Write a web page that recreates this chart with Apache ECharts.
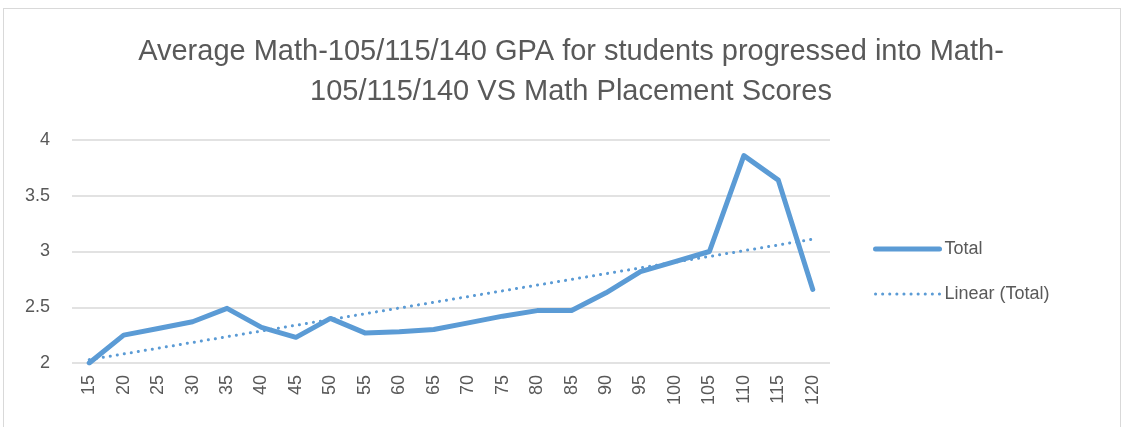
<html>
<head>
    <meta charset="utf-8" />
    <script src="https://cdn.jsdelivr.net/npm/echarts@6/dist/echarts.min.js"></script>
    <title>Math Placement GPA</title>
    <style>
        body { margin: 0; overflow: hidden; background: #fff; }
        .frame {
            position: absolute; left: 3px; top: 8px;
            width: 1116px; height: 440px;
            border: 1px solid #d9d9d9;
        }
        #chart { position: absolute; left: 0; top: 0; width: 1124px; height: 427px; }
    </style>
</head>
<body>
    <div class="frame"></div>
    <div id="chart"></div>
    <script type="text/javascript">
        var scores = ['15', '20', '25', '30', '35', '40', '45', '50', '55', '60', '65',
            '70', '75', '80', '85', '90', '95', '100', '105', '110', '115', '120'];
        var totalGpa = [2.0, 2.25, 2.31, 2.37, 2.49, 2.32, 2.23, 2.40, 2.27, 2.28, 2.30,
            2.36, 2.42, 2.47, 2.47, 2.63, 2.82, 2.91, 3.00, 3.86, 3.64, 2.66];
        // trendline ends
        var trendEnds = [['15', 2.03], ['120', 3.11]];
        var yTicks = [2, 2.5, 3, 3.5, 4];

        var blue = '#5b9bd5';
        var textGrey = '#595959';
        var font = 'Liberation Sans';

        var chart = echarts.init(document.getElementById('chart'));
        chart.setOption({
            animation: false,
            title: {
                text: 'Average Math-105/115/140 GPA for students progressed into Math-\n105/115/140 VS Math Placement Scores',
                left: 566,
                textAlign: 'center',
                top: 27,
                textStyle: {
                    fontFamily: font,
                    fontSize: 29,
                    fontWeight: 'normal',
                    color: textGrey,
                    lineHeight: 40
                }
            },
            legend: {
                orient: 'vertical',
                left: 868,
                top: 235,
                itemWidth: 64,
                itemHeight: 14,
                itemGap: 27,
                itemStyle: { color: 'rgba(0,0,0,0)', borderWidth: 0 },
                textStyle: { fontFamily: font, fontSize: 18, color: textGrey },
                data: [
                    { name: 'Total', lineStyle: { width: 5 } },
                    { name: 'Linear (Total)', lineStyle: { width: 3 } }
                ]
            },
            grid: { left: 72, right: 294, top: 140, bottom: 64 },
            xAxis: {
                type: 'category',
                data: scores,
                boundaryGap: true,
                axisLine: { show: false },
                axisTick: { show: false },
                axisLabel: {
                    rotate: 90,
                    interval: 0,
                    margin: 12,
                    fontFamily: font,
                    fontSize: 18,
                    color: textGrey
                }
            },
            yAxis: {
                type: 'value',
                min: yTicks[0],
                max: yTicks[yTicks.length - 1],
                interval: 0.5,
                axisLine: { show: false },
                axisTick: { show: false },
                axisLabel: {
                    margin: 22,
                    fontFamily: font,
                    fontSize: 18,
                    color: textGrey
                },
                splitLine: { lineStyle: { color: '#d9d9d9', width: 1.5 } }
            },
            series: [{
                name: 'Total',
                type: 'line',
                data: totalGpa,
                symbol: 'none',
                color: blue,
                lineStyle: { color: blue, width: 5, cap: 'round', join: 'round' }
            }, {
                name: 'Linear (Total)',
                type: 'line',
                data: trendEnds,
                symbol: 'none',
                color: blue,
                lineStyle: { color: blue, width: 3, type: [0.1, 7], cap: 'round' }
            }]
        });
    </script>
</body>
</html>
